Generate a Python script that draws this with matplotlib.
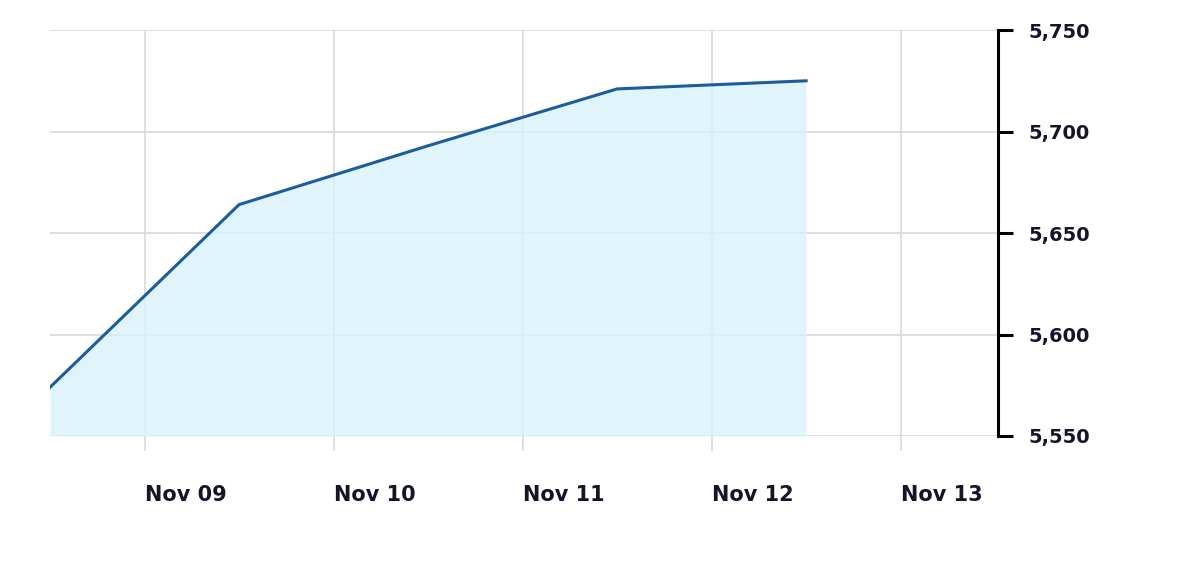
import datetime as dt
import matplotlib
matplotlib.use("Agg")
import matplotlib.pyplot as plt
import matplotlib.dates as mdates
from matplotlib.ticker import FuncFormatter

# data (one point per day at midday)
dates = [dt.datetime(2024, 11, 8, 12), dt.datetime(2024, 11, 9, 12),
         dt.datetime(2024, 11, 10, 12), dt.datetime(2024, 11, 11, 12),
         dt.datetime(2024, 11, 12, 12)]
values = [5574, 5664, 5693, 5721, 5725]

x_ticks = [dt.datetime(2024, 11, d) for d in range(9, 14)]
x_labels = ["Nov 09", "Nov 10", "Nov 11", "Nov 12", "Nov 13"]
y_ticks = [5550, 5600, 5650, 5700, 5750]

line_col = "#1c5c9c"
fill_col = "#d8f3fa"
grid_col = "#d9d9d9"
text_col = "#14142a"

fig = plt.figure(figsize=(12, 5.78), dpi=100)
ax = fig.add_axes([0.0417, 0.2457, 0.79, 0.7023])

ax.fill_between(dates, values, 5550, color=fill_col, alpha=0.8, lw=0, zorder=1)
ax.plot(dates, values, color=line_col, lw=2.2, zorder=3)

ax.set_xlim(dates[0], dt.datetime(2024, 11, 13, 12, 22))
ax.set_ylim(5550, 5750)

ax.set_xticks(x_ticks)
ax.set_xticklabels(x_labels, ha="left")
ax.set_yticks(y_ticks)
ax.yaxis.set_major_formatter(FuncFormatter(lambda v, p: f"{v:,.0f}"))

ax.grid(True, color=grid_col, lw=1.2, zorder=0)
ax.set_axisbelow(True)

for s in ["top", "left", "bottom"]:
    ax.spines[s].set_visible(False)
ax.spines["right"].set_linewidth(2.2)
ax.spines["right"].set_color("black")

ax.yaxis.tick_right()
ax.tick_params(axis="y", length=11, width=2.2, color="black", pad=11,
               labelsize=14, labelcolor=text_col)
ax.tick_params(axis="x", length=11, width=1.2, color=grid_col, pad=24,
               labelsize=15, labelcolor=text_col)
for lab in ax.get_xticklabels() + ax.get_yticklabels():
    lab.set_fontweight("bold")

fig.savefig("out.png", dpi=100, facecolor="white")
